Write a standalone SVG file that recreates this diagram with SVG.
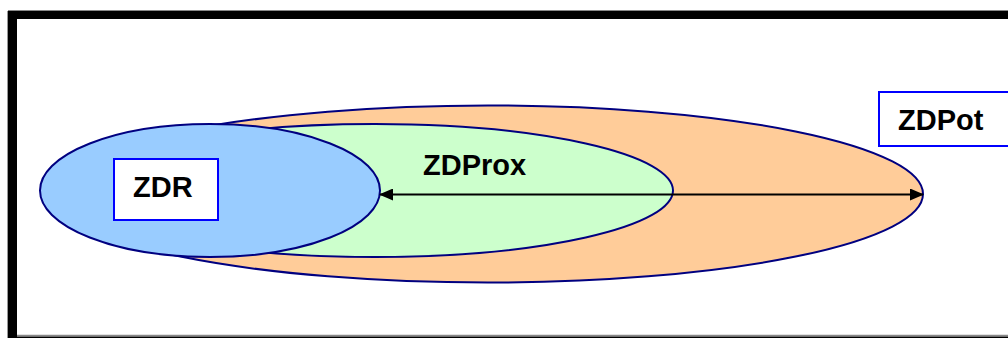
<svg xmlns="http://www.w3.org/2000/svg" width="1008" height="338" viewBox="0 0 1008 338">
<style>
.ell{stroke:#000080;stroke-width:2}
.box{fill:#ffffff;stroke:#0000ff;stroke-width:2}
.lbl{font-family:"Liberation Sans",Arial,sans-serif;font-weight:bold;font-size:29px;fill:#000000}
</style>
<defs>
<marker id="ah" viewBox="0 0 14 12" refX="13" refY="6" markerWidth="14" markerHeight="12" markerUnits="userSpaceOnUse" orient="auto-start-reverse">
<path d="M0,0 L14,6 L0,12 Z" fill="#000000"/>
</marker>
</defs>
<rect x="0" y="0" width="1008" height="338" fill="#ffffff"/>
<g id="frame">
<rect x="8" y="11" width="1000" height="8" fill="#000000"/>
<rect x="8" y="11" width="9" height="327" fill="#000000"/>
<line x1="8" y1="10.5" x2="1008" y2="10.5" stroke="#888888" stroke-width="1"/>
<line x1="7.5" y1="11" x2="7.5" y2="338" stroke="#999999" stroke-width="1"/>
<line x1="17" y1="335.5" x2="1008" y2="335.5" stroke="#888888" stroke-width="1.5"/>
<rect x="8" y="336.5" width="1000" height="2" fill="#000000"/>
</g>
<g id="zdpot-area">
<ellipse class="ell" cx="488" cy="194" rx="435" ry="88.5" fill="#ffcc99"/>
</g>
<g id="zdprox-area">
<ellipse class="ell" cx="375" cy="190.5" rx="298" ry="66.5" fill="#ccffcc"/>
</g>
<g id="zdr-area">
<ellipse class="ell" cx="210" cy="190.5" rx="170" ry="66.5" fill="#99ccff"/>
</g>
<g id="connectors">
<line x1="380" y1="194.5" x2="923" y2="194.5" stroke="#000000" stroke-width="2" marker-start="url(#ah)" marker-end="url(#ah)"/>
</g>
<g id="zdr-label">
<rect class="box" x="114" y="159" width="104" height="61"/>
<text class="lbl" x="133" y="197">ZDR</text>
</g>
<g id="zdprox-label">
<text class="lbl" x="423" y="175">ZDProx</text>
</g>
<g id="zdpot-label">
<rect class="box" x="879" y="92" width="140" height="54"/>
<text class="lbl" x="898" y="130">ZDPot</text>
</g>
</svg>
